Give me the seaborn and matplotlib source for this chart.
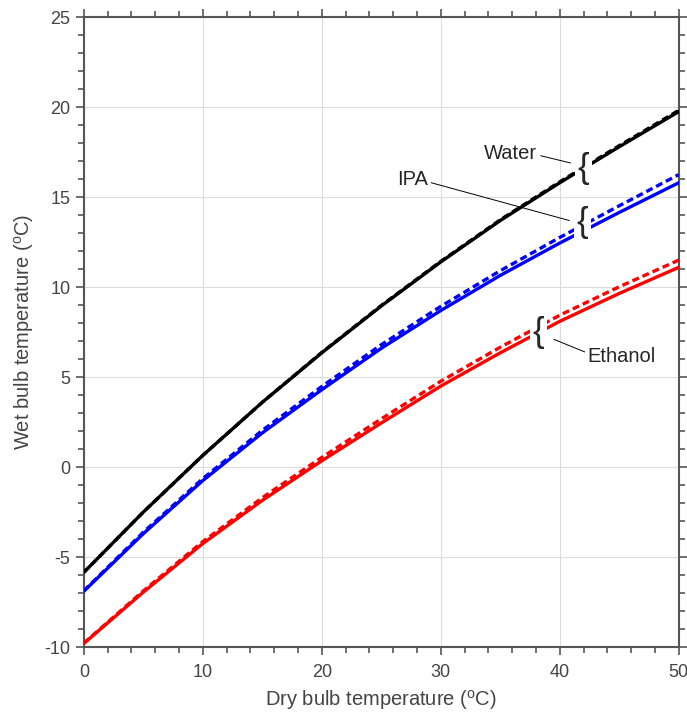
import numpy as np
import pandas as pd
import matplotlib
matplotlib.use("Agg")
import matplotlib.pyplot as plt
import seaborn as sns
from matplotlib.ticker import MultipleLocator

# dry bulb temperature (degC)
dry_bulb = [0, 5, 10, 15, 20, 25, 30, 35, 40, 45, 50]

# wet bulb temperature (degC), solid = model, dashed = reference
water_solid = [-5.85, -2.5, 0.65, 3.6, 6.35, 8.95, 11.4, 13.7, 15.8, 17.8, 19.75]
water_dashed = [-5.85, -2.5, 0.65, 3.6, 6.37, 8.98, 11.43, 13.74, 15.85, 17.86, 19.82]
ipa_solid = [-6.9, -3.7, -0.75, 1.9, 4.3, 6.6, 8.7, 10.65, 12.45, 14.15, 15.8]
ipa_dashed = [-6.87, -3.62, -0.64, 2.04, 4.48, 6.8, 8.93, 10.91, 12.76, 14.52, 16.25]
ethanol_solid = [-9.8, -6.95, -4.25, -1.85, 0.35, 2.45, 4.5, 6.35, 8.1, 9.65, 11.1]
ethanol_dashed = [-9.78, -6.88, -4.14, -1.7, 0.54, 2.68, 4.77, 6.66, 8.44, 10.02, 11.5]

sns.set_style("ticks")
plt.rcParams['font.family'] = ['Liberation Sans', 'DejaVu Sans']
plt.rcParams['mathtext.fontset'] = 'custom'
plt.rcParams['mathtext.rm'] = 'Liberation Sans'
plt.rcParams['axes.unicode_minus'] = False

fig, ax = plt.subplots(figsize=(6.87, 7.15), dpi=100)
fig.subplots_adjust(left=0.122, right=0.988, top=0.976, bottom=0.095)

series = [
    (water_solid, 'black', '-'),
    (water_dashed, 'black', '--'),
    (ipa_solid, 'blue', '-'),
    (ipa_dashed, 'blue', '--'),
    (ethanol_solid, 'red', '-'),
    (ethanol_dashed, 'red', '--'),
]
for vals, col, ls in series:
    df = pd.DataFrame({"x": dry_bulb, "y": vals})
    line = sns.lineplot(data=df, x="x", y="y", ax=ax, color=col,
                        linewidth=2.4, zorder=3).lines[-1]
    if ls == '--':
        line.set_dashes((2.1, 1.2))

ax.set_xlim(0, 50)
ax.set_ylim(-10, 25)
ax.xaxis.set_major_locator(MultipleLocator(10))
ax.xaxis.set_minor_locator(MultipleLocator(2))
ax.yaxis.set_major_locator(MultipleLocator(5))
ax.yaxis.set_minor_locator(MultipleLocator(1))
ax.grid(True, which='major', color='#dcdcdc', linewidth=0.8)
ax.set_axisbelow(True)

ax.tick_params(which='both', direction='out', top=True, right=True,
               color='#555555', labelcolor='#444444', labelsize=13)
ax.tick_params(which='major', length=6, width=1.2)
ax.tick_params(which='minor', length=4, width=1.2)
ax.tick_params(axis='x', pad=6)
for sp in ax.spines.values():
    sp.set_color('#555555')
    sp.set_linewidth(1.5)

ax.set_xlabel(r'Dry bulb temperature ($^{\mathrm{o}}$C)', fontsize=14.5, color='#444444', labelpad=5)
ax.set_ylabel(r'Wet bulb temperature ($^{\mathrm{o}}$C)', fontsize=14.5, color='#444444', labelpad=6)

# braces that break the curves
brace_box = dict(facecolor='white', edgecolor='none', pad=2.0)
for bx, by in [(42.0, 16.6), (41.9, 13.6), (38.2, 7.5)]:
    ax.text(bx, by, '{', fontsize=25, ha='center', va='center', zorder=5, bbox=brace_box)

# labels with leader lines
ax.plot([38.4, 40.9], [17.3, 16.9], color='black', lw=0.7, zorder=4)
ax.text(38.1, 17.45, 'Water', fontsize=14.5, ha='right', va='center')
ax.plot([29.2, 40.8], [15.8, 13.7], color='black', lw=0.7, zorder=4)
ax.text(28.9, 16.0, 'IPA', fontsize=14.5, ha='right', va='center')
ax.plot([39.5, 42.1], [7.1, 6.4], color='black', lw=0.7, zorder=4)
ax.text(42.3, 6.15, 'Ethanol', fontsize=14.5, ha='left', va='center')

fig.savefig("out.png", dpi=100)
